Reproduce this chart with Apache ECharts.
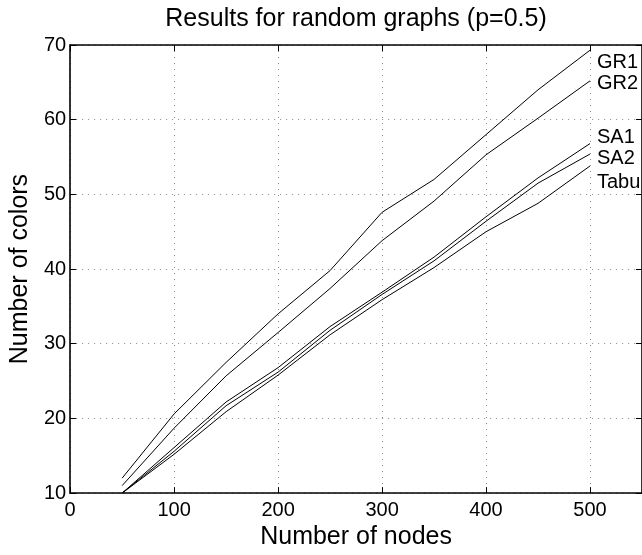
<!DOCTYPE html>
<html><head><meta charset="utf-8">
<script src="https://cdn.jsdelivr.net/npm/echarts@6/dist/echarts.min.js"></script>
<style>html,body{margin:0;padding:0;background:#fff;overflow:hidden}#c{width:642px;height:555px}</style>
</head><body><div id="c"></div>
<script>
// ---- data ----
const nodes = [50, 100, 150, 200, 250, 300, 350, 400, 450, 500];
const gr1  = [12, 20.6, 27.5, 34.0, 39.8, 47.6, 52.0, 58.0, 64.0, 69.3];
const gr2  = [11, 18.7, 25.7, 31.5, 37.4, 43.8, 49.1, 55.3, 60.2, 65.2];
const sa1  = [10, 16.1, 22.2, 26.8, 32.3, 36.9, 41.6, 47.0, 52.2, 56.8];
const sa2  = [10, 15.6, 21.7, 26.2, 31.8, 36.6, 41.1, 46.4, 51.5, 55.4];
const tabu = [10, 15.2, 20.9, 25.8, 31.2, 35.9, 40.2, 45.0, 48.8, 53.8];
const seriesNames = ['GR1', 'GR2', 'SA1', 'SA2', 'Tabu'];
const seriesValues = [gr1, gr2, sa1, sa2, tabu];
const xTickLabels = [0, 100, 200, 300, 400, 500];
const yTickLabels = [10, 20, 30, 40, 50, 60, 70];
const titleText = 'Results for random graphs (p=0.5)';
const xName = 'Number of nodes';
const yName = 'Number of colors';

// ---- styling ----
const FONT = '"Liberation Sans", Arial, Helvetica, sans-serif';
const labelTop = [52, 73, 127, 148, 172]; // tops of the hand-placed line labels (px)

const chart = echarts.init(document.getElementById('c'), null, {renderer: 'canvas'});

const gridLine = {show: true, lineStyle: {color: '#8a8a8a', width: 1, type: [1, 5]}};
const tick = {show: true, inside: true, length: 6, lineStyle: {color: '#000', width: 1}};
const axLine = {show: true, onZero: false, lineStyle: {color: '#000', width: 1.6}};

const xLabelFmt = v => xTickLabels.indexOf(v) >= 0 ? String(v) : '';
const yLabelFmt = v => yTickLabels.indexOf(v) >= 0 ? String(v) : '';

const option = {
  backgroundColor: '#fff',
  animation: false,
  title: {
    text: titleText, left: 356, top: 7, textAlign: 'center', padding: 0,
    textStyle: {fontFamily: FONT, fontSize: 25, fontWeight: 'normal', color: '#000'}
  },
  grid: {left: 64, top: 45, width: 580, height: 456, containLabel: false},
  xAxis: [{
    type: 'value', min: 0, max: 550, interval: 100, position: 'bottom',
    name: xName, nameLocation: 'middle', nameGap: 28,
    nameTextStyle: {fontFamily: FONT, fontSize: 25, color: '#000'},
    axisLine: axLine, axisTick: tick, splitLine: gridLine,
    axisLabel: {show: true, margin: 7, fontFamily: FONT, fontSize: 20, color: '#000',
                formatter: xLabelFmt, showMaxLabel: false}
  }, {
    type: 'value', min: 0, max: 550, interval: 100, position: 'top',
    axisLine: axLine, axisTick: tick, splitLine: {show: false}, axisLabel: {show: false}
  }],
  yAxis: [{
    type: 'value', min: 10, max: 70, interval: 10, position: 'left',
    name: yName, nameLocation: 'middle', nameGap: 28,
    nameTextStyle: {fontFamily: FONT, fontSize: 25, color: '#000'},
    axisLine: axLine, axisTick: tick, splitLine: gridLine,
    axisLabel: {show: true, margin: 4, fontFamily: FONT, fontSize: 20, color: '#000',
                formatter: yLabelFmt}
  }, {
    type: 'value', min: 10, max: 70, interval: 10, position: 'right',
    axisLine: axLine, axisTick: tick, splitLine: {show: false}, axisLabel: {show: false}
  }],
  series: seriesNames.map((name, i) => ({
    name: name, type: 'line', xAxisIndex: 0, yAxisIndex: 0,
    data: nodes.map((x, j) => [x, seriesValues[i][j]]),
    showSymbol: false, symbol: 'none', smooth: false,
    lineStyle: {color: '#000', width: 1}, z: 3
  })),
  graphic: seriesNames.map((name, i) => ({
    type: 'text', left: 597, top: labelTop[i], z: 10,
    style: {text: name, font: '20px ' + FONT, fill: '#000'}
  }))
};
chart.setOption(option);
</script>
</body></html>
